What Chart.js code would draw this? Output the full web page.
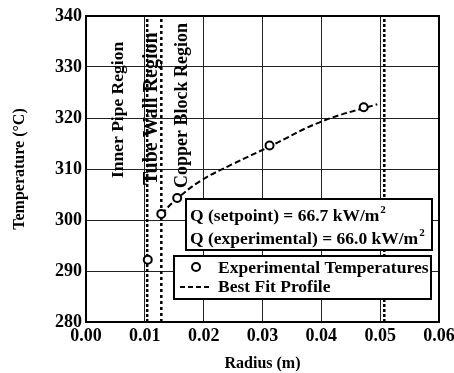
<!DOCTYPE html>
<html>
<head>
<meta charset="utf-8">
<script src="https://cdn.jsdelivr.net/npm/chart.js@4"></script>
<style>
  html, body { margin: 0; padding: 0; background: #fff; }
  #wrap { width: 454px; height: 373px; }
</style>
</head>
<body>
<div id="wrap"><canvas id="tempChart" width="454" height="373"></canvas></div>
<script>
// measured temperatures (radius in m, temperature in °C)
const radius = [0.0105, 0.0128, 0.0155, 0.0312, 0.0472];
const temps = [292.2, 301.2, 304.3, 314.6, 322.1];

// best fit profile
const fitRadius = [0.0128, 0.0155, 0.0195, 0.025, 0.0312, 0.04, 0.0495];
const fitTemps = [301.2, 304.2, 307.7, 311.0, 314.4, 319.3, 322.7];

// region boundaries (inner pipe / tube wall / copper block)
const boundaries = [0.0104, 0.0128, 0.0507];
const boundaryDash = [[3, 2], [3, 3], [3, 2]];

const xTicks = [0, 0.01, 0.02, 0.03, 0.04, 0.05, 0.06];
const yTicks = [280, 290, 300, 310, 320, 330, 340];

const regionLabels = ['Inner Pipe Region', 'Tube Wall Region', 'Copper Block Region'];
const qLines = ['Q (setpoint) = 66.7 kW/m', 'Q (experimental) = 66.0 kW/m'];
const legendLabels = ['Experimental Temperatures', 'Best Fit Profile'];

const SERIF = '"Liberation Serif", "Times New Roman", serif';

const toPoints = (xs, ys) => xs.map((x, i) => ({ x: x, y: ys[i] }));

const boundarySets = boundaries.map((b, i) => ({
  data: [{ x: b, y: yTicks[0] }, { x: b, y: yTicks[yTicks.length - 1] }],
  showLine: true,
  borderColor: '#000',
  borderWidth: 2.5,
  borderDash: boundaryDash[i],
  pointRadius: 0,
  order: 3
}));

// frame, rotated region labels and the two boxed legends
const annotations = {
  id: 'annotations',
  afterDraw(chart) {
    const { ctx, chartArea: a } = chart;
    ctx.save();
    ctx.strokeStyle = '#000';
    ctx.lineWidth = 2;
    ctx.strokeRect(a.left, a.top, a.right - a.left, a.bottom - a.top);

    // region labels
    ctx.fillStyle = '#000';
    ctx.textAlign = 'left';
    ctx.textBaseline = 'middle';
    const lx = [118, 152, 182];
    const ly = [178, 185, 188];
    const ls = [17.5, 20, 18];
    regionLabels.forEach((t, i) => {
      ctx.save();
      ctx.font = 'bold ' + ls[i] + 'px ' + SERIF;
      ctx.translate(lx[i], ly[i]);
      ctx.rotate(-Math.PI / 2);
      ctx.fillText(t, 0, 0);
      ctx.restore();
    });

    // heat flux box
    ctx.fillStyle = '#fff';
    ctx.fillRect(186, 199, 246, 51);
    ctx.strokeRect(186, 199, 246, 51);
    ctx.fillStyle = '#000';
    ctx.textBaseline = 'alphabetic';
    [221, 244].forEach((y, i) => {
      ctx.font = 'bold 17.5px ' + SERIF;
      ctx.fillText(qLines[i], 190, y);
      const w = ctx.measureText(qLines[i]).width;
      ctx.font = 'bold 11px ' + SERIF;
      ctx.fillText('2', 190 + w + 1, y - 8);
    });

    // symbol legend box
    ctx.fillStyle = '#fff';
    ctx.fillRect(174, 256, 257, 43);
    ctx.strokeRect(174, 256, 257, 43);
    ctx.beginPath();
    ctx.arc(196, 267, 4, 0, Math.PI * 2);
    ctx.lineWidth = 2;
    ctx.stroke();
    ctx.beginPath();
    ctx.setLineDash([5, 3]);
    ctx.moveTo(180, 287);
    ctx.lineTo(212, 287);
    ctx.stroke();
    ctx.setLineDash([]);
    ctx.fillStyle = '#000';
    ctx.font = 'bold 17.5px ' + SERIF;
    ctx.fillText(legendLabels[0], 218, 273);
    ctx.fillText(legendLabels[1], 218, 292);
    ctx.restore();
  }
};

new Chart(document.getElementById('tempChart'), {
  type: 'scatter',
  data: {
    datasets: [
      {
        label: legendLabels[0],
        data: toPoints(radius, temps),
        pointStyle: 'circle',
        pointRadius: 4,
        pointBorderWidth: 2,
        pointBorderColor: '#000',
        pointBackgroundColor: '#fff',
        order: 1
      },
      {
        label: legendLabels[1],
        data: toPoints(fitRadius, fitTemps),
        showLine: true,
        tension: 0.4,
        borderColor: '#000',
        borderWidth: 2,
        borderDash: [6, 3],
        pointRadius: 0,
        order: 2
      },
      ...boundarySets
    ]
  },
  plugins: [annotations],
  options: {
    responsive: false,
    animation: false,
    layout: { padding: { top: 16, right: 15, left: 0, bottom: 0 } },
    plugins: {
      legend: { display: false },
      tooltip: { enabled: false }
    },
    scales: {
      x: {
        type: 'linear',
        min: 0,
        max: 0.06,
        afterBuildTicks: (axis) => { axis.ticks = xTicks.map(v => ({ value: v })); },
        afterFit: (axis) => {
          axis.height = 51;
          axis.paddingRight = 0;
          axis.paddingLeft = 0;
        },
        grid: { color: '#222', lineWidth: 1, drawTicks: false },
        border: { display: false },
        ticks: {
          color: '#000',
          padding: 4,
          maxRotation: 0,
          font: { family: SERIF, size: 18, weight: 'bold' },
          callback: (v) => v.toFixed(2)
        },
        title: {
          display: true,
          text: 'Radius (m)',
          color: '#000',
          padding: { top: 0, bottom: 0 },
          font: { family: SERIF, size: 16, weight: 'bold' }
        }
      },
      y: {
        min: 280,
        max: 340,
        afterBuildTicks: (axis) => { axis.ticks = yTicks.map(v => ({ value: v })); },
        afterFit: (axis) => {
          axis.width = 86;
          axis.paddingTop = 0;
          axis.paddingBottom = 0;
        },
        grid: { color: '#222', lineWidth: 1, drawTicks: false },
        border: { display: false },
        ticks: {
          color: '#000',
          padding: 4,
          font: { family: SERIF, size: 18, weight: 'bold' }
        },
        title: {
          display: true,
          text: 'Temperature (°C)',
          color: '#000',
          padding: { top: 10, bottom: 0 },
          font: { family: SERIF, size: 16, weight: 'bold' }
        }
      }
    }
  }
});
</script>
</body>
</html>
